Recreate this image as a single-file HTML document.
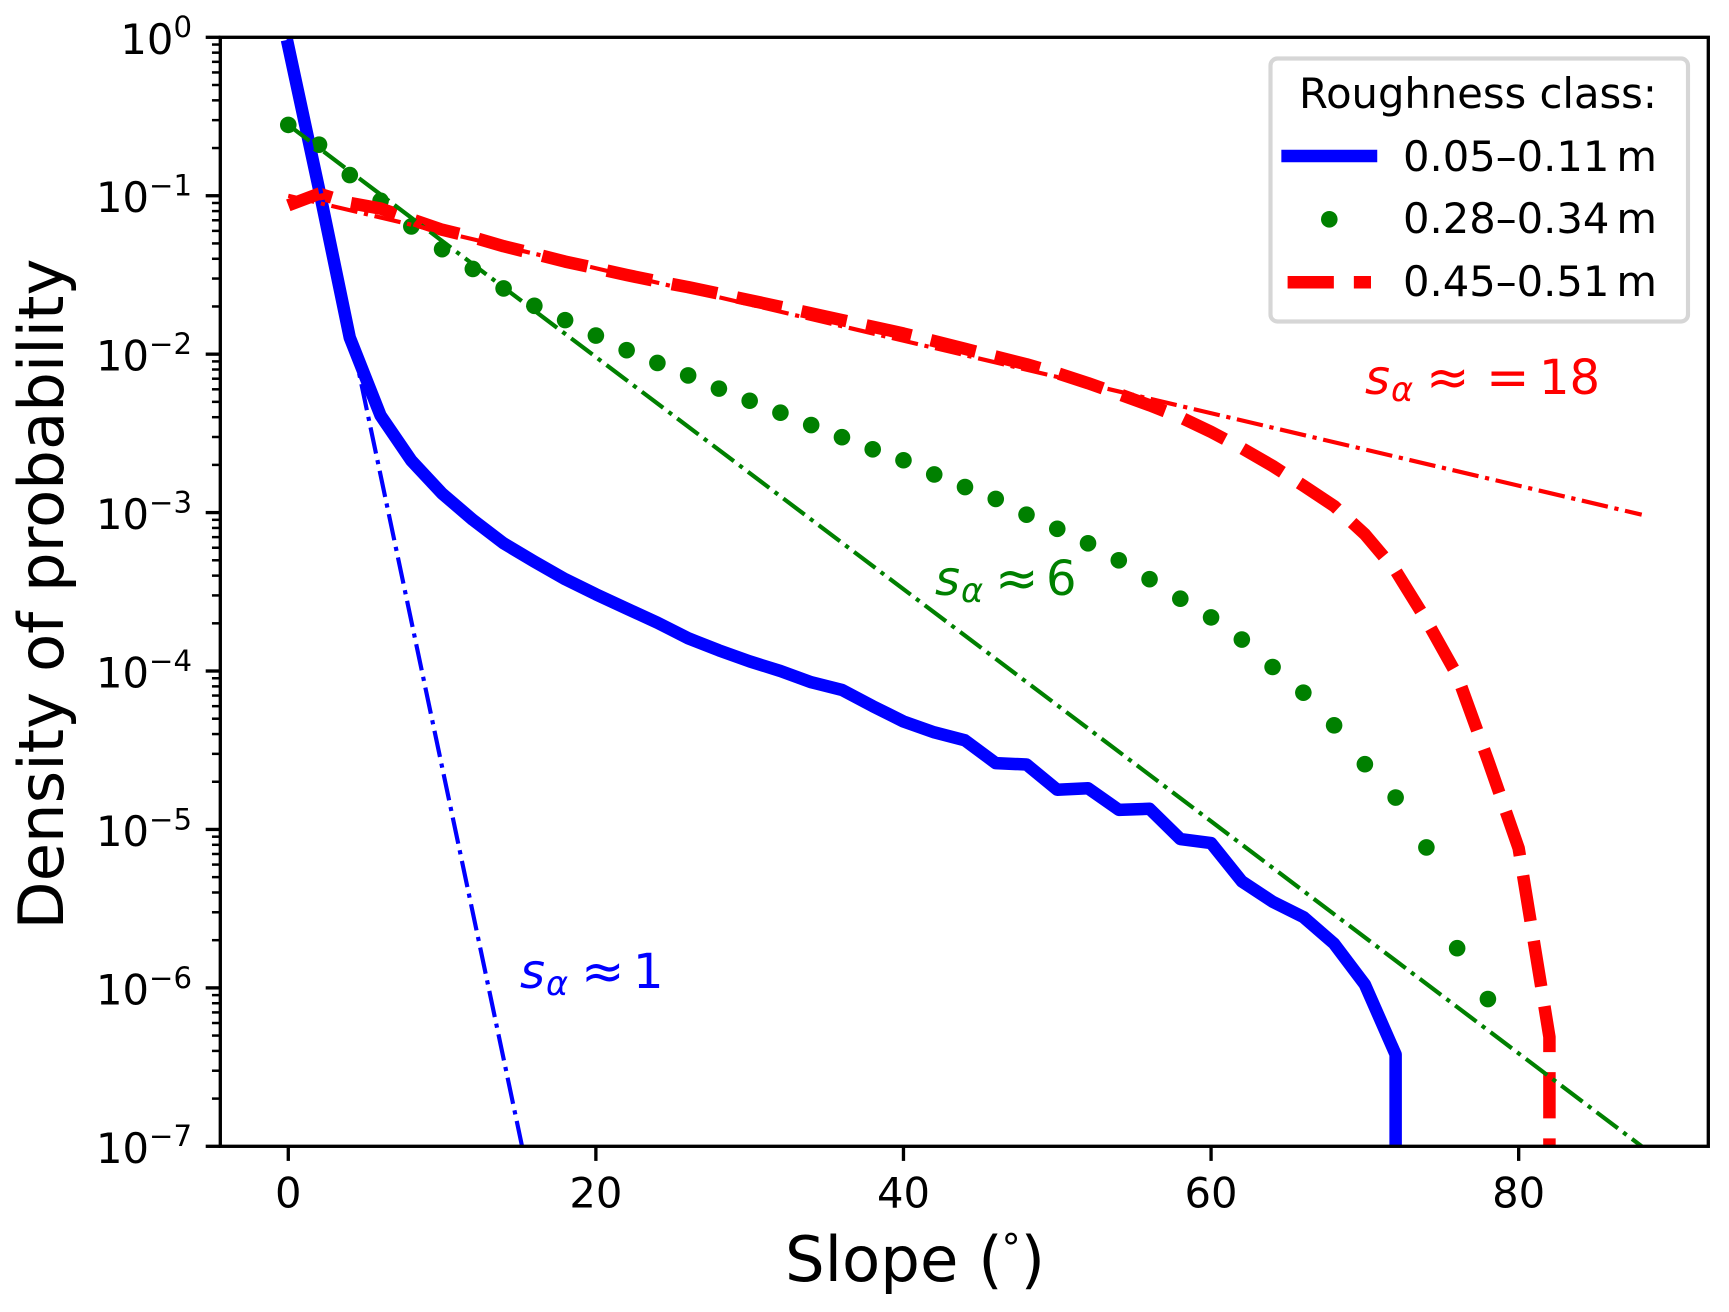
<!DOCTYPE html>
<html lang="en">
<head>
<meta charset="utf-8">
<title>Density of probability vs slope</title>
<style>
html,body{margin:0;padding:0;background:#fff;width:1729px;height:1312px;overflow:hidden}
svg{display:block}
text{font-family:"DejaVu Sans","Liberation Sans",sans-serif}
.math{font-style:italic}
</style>
</head>
<body>
<svg id="chart" xmlns="http://www.w3.org/2000/svg" width="1729" height="1312" viewBox="0 0 1729 1312">
  <rect x="0" y="0" width="1729" height="1312" fill="#fff"/>
  <defs>
    <clipPath id="plot-clip"><rect x="220.3" y="37.3" width="1488" height="1109"/></clipPath>
  </defs>
  <g id="series-layer" clip-path="url(#plot-clip)"></g>
  <g id="axis-layer"></g>

  <text x="0" y="0" transform="translate(63,594) rotate(-90)" text-anchor="middle" font-size="62.5">Density of probability</text>
  <text x="785" y="1281" font-size="62.5">Slope (<tspan dx="-1" dy="-20" font-size="38">°</tspan><tspan dy="20" dx="0">)</tspan></text>

  <g fill="#0000ff">
    <text class="math" x="520" y="988" font-size="48">s</text>
    <text class="math" x="546" y="995" font-size="33.6">α</text>
    <text x="581" y="989.2" font-size="52">≈</text>
    <text x="633" y="988" font-size="48">1</text>
  </g>
  <g fill="#008000">
    <text class="math" x="935" y="595" font-size="48">s</text>
    <text class="math" x="961" y="602" font-size="33.6">α</text>
    <text x="995" y="596.2" font-size="52">≈</text>
    <text x="1046" y="595" font-size="48">6</text>
  </g>
  <g fill="#ff0000">
    <text class="math" x="1365" y="394" font-size="48">s</text>
    <text class="math" x="1391" y="401" font-size="33.6">α</text>
    <text x="1426" y="395.2" font-size="52">≈</text>
    <text x="1486" y="395.2" font-size="52">=</text>
    <text x="1539" y="394" font-size="48">18</text>
  </g>

  <g>
    <rect x="1270.5" y="58.5" width="417.5" height="263" rx="7" ry="7" fill="#fff" stroke="#d6d6d6" stroke-width="4.17"/>
    <text x="1299" y="108" font-size="41.67">Roughness class:</text>
    <line x1="1287.6" y1="156" x2="1371" y2="156" stroke="#0000ff" stroke-width="12.5" stroke-linecap="square"/>
    <text x="1403" y="171" font-size="41.67">0.05–0.11<tspan dx="7">m</tspan></text>
    <circle cx="1329.3" cy="219.3" r="8.3" fill="#008000"/>
    <text x="1403" y="233" font-size="41.67">0.28–0.34<tspan dx="7">m</tspan></text>
    <line x1="1287.6" y1="282.3" x2="1371" y2="282.3" stroke="#ff0000" stroke-width="12.5" stroke-dasharray="46.25 20"/>
    <text x="1403" y="296" font-size="41.67">0.45–0.51<tspan dx="7">m</tspan></text>
  </g>
</svg>
<script>
// Chart data
const blueSlopes = [0,2,4,6,8,10,12,14,16,18,20,22,24,26,28,30,32,34,36,38,40,42,44,46,48,50,52,54,56,58,60,62,64,66,68,70,72,72];
const blueDensity = [0.88,0.11,0.0127,0.0041,0.00213,0.00132,0.0009,0.00064,0.00049,0.00038,0.000305,0.000248,0.000202,0.000161,0.000135,0.000115,0.0001,0.000085,0.000076,0.00006,0.000048,0.000041,0.0000365,0.0000262,0.0000257,0.0000178,0.0000182,0.0000133,0.0000135,0.0000087,0.0000082,0.0000047,0.0000035,0.0000028,0.0000019,0.00000105,0.00000038,0.00000001];

const greenSlopes = [0,2,4,6,8,10,12,14,16,18,20,22,24,26,28,30,32,34,36,38,40,42,44,46,48,50,52,54,56,58,60,62,64,66,68,70,72,74,76,78];
const greenDensity = [0.28,0.21,0.135,0.093,0.064,0.046,0.0345,0.026,0.0202,0.0164,0.0131,0.0106,0.0088,0.00734,0.00606,0.00508,0.00427,0.00357,0.00299,0.00251,0.00214,0.00174,0.00145,0.00122,0.00097,0.00079,0.00064,0.0005,0.00038,0.000286,0.000218,0.000158,0.000106,0.000073,0.0000454,0.0000258,0.0000159,0.0000077,0.00000178,0.00000085];

const redSlopes = [0,2,4,6,8,10,12,14,16,18,20,22,24,26,28,30,32,34,36,38,40,42,44,46,48,50,52,54,56,58,60,62,64,66,68,70,72,74,76,78,80,82,82];
const redDensity = [0.087,0.103,0.09,0.083,0.071,0.061,0.0547,0.048,0.043,0.0384,0.0349,0.0316,0.0288,0.0265,0.0241,0.0219,0.0199,0.0181,0.0164,0.0149,0.0135,0.0121,0.0108,0.00966,0.00863,0.00759,0.00656,0.0056,0.00476,0.004,0.00323,0.00255,0.00197,0.00148,0.0011,0.00073,0.00043,0.000209,0.000094,0.0000274,0.0000076,0.00000049,0.00000001];

const fitBlueSlopes = [0,15.2];
const fitBlueDensity = [1,0.0000001];
const fitGreenSlopes = [0,88];
const fitGreenDensity = [0.28,0.0000001];
const fitRedSlopes = [0,88];
const fitRedDensity = [0.1,0.00097];

const xTickValues = [0,20,40,60,80];
const xTickLabels = ["0","20","40","60","80"];
const yTickValues = [1,0.1,0.01,0.001,0.0001,0.00001,0.000001,0.0000001];
const yTickExponents = ["0","−1","−2","−3","−4","−5","−6","−7"];
const minorMultipliers = [2,3,4,5,6,7,8,9];

// Axis functions
const plotLeft = 220.3, plotRight = 1708.3, plotTop = 37.3, plotBottom = 1146.3;
const xDomain = [-4.42, 92.33];
const yDecades = [0, -7];
function xScale(v){
  return plotLeft + (v - xDomain[0]) / (xDomain[1] - xDomain[0]) * (plotRight - plotLeft);
}
function yScale(v){
  return plotTop + (Math.log10(v) - yDecades[0]) / (yDecades[1] - yDecades[0]) * (plotBottom - plotTop);
}

const NS = 'http://www.w3.org/2000/svg';
const seriesLayer = document.getElementById('series-layer');
const axisLayer = document.getElementById('axis-layer');
function make(tag, attrs, parent){
  const el = document.createElementNS(NS, tag);
  for (const k in attrs) el.setAttribute(k, attrs[k]);
  parent.appendChild(el);
  return el;
}
function pointsOf(xs, ys){
  return xs.map(function(x, i){ return xScale(x).toFixed(2) + ',' + yScale(ys[i]).toFixed(2); }).join(' ');
}

// Thick blue line
const blueLine = make('polyline', {points: pointsOf(blueSlopes, blueDensity), fill:'none', stroke:'#0000ff', 'stroke-width':12.5, 'stroke-linecap':'square', 'stroke-linejoin':'round'}, seriesLayer);



// Green dots
greenSlopes.forEach(function(x, i){
  const dot = make('circle', {cx: xScale(x).toFixed(2), cy: yScale(greenDensity[i]).toFixed(2), r: 8.3, fill:'#008000'}, seriesLayer);
  
  
});

// Thick dashed red line
const redLine = make('polyline', {points: pointsOf(redSlopes, redDensity), fill:'none', stroke:'#ff0000', 'stroke-width':12.5, 'stroke-dasharray':'46.25 20', 'stroke-linejoin':'round'}, seriesLayer);



// Fit lines
const fitDash = '26.7 6.7 4.2 6.7';
const fitBlue = make('polyline', {points: pointsOf(fitBlueSlopes, fitBlueDensity), fill:'none', stroke:'#0000ff', 'stroke-width':4.17, 'stroke-dasharray':fitDash}, seriesLayer);


const fitGreen = make('polyline', {points: pointsOf(fitGreenSlopes, fitGreenDensity), fill:'none', stroke:'#008000', 'stroke-width':4.17, 'stroke-dasharray':fitDash}, seriesLayer);


const fitRed = make('polyline', {points: pointsOf(fitRedSlopes, fitRedDensity), fill:'none', stroke:'#ff0000', 'stroke-width':4.17, 'stroke-dasharray':fitDash}, seriesLayer);



// Spines
const spine = make('rect', {x: plotLeft, y: plotTop, width: plotRight - plotLeft, height: plotBottom - plotTop, fill:'none', stroke:'#000', 'stroke-width':3.33, 'stroke-linejoin':'miter'}, axisLayer);



// X ticks
xTickValues.forEach(function(v, i){
  const px = xScale(v);
  const tick = make('line', {x1: px, x2: px, y1: plotBottom, y2: plotBottom + 14.6, stroke:'#000', 'stroke-width':3.33}, axisLayer);
  
  
  const label = make('text', {x: px, y: 1207.5, 'text-anchor':'middle', 'font-size':41.67}, axisLayer);
  label.textContent = xTickLabels[i];
  
  
});

// Y ticks
yTickValues.forEach(function(v, i){
  const py = yScale(v);
  const tick = make('line', {x1: plotLeft - 14.6, x2: plotLeft, y1: py, y2: py, stroke:'#000', 'stroke-width':3.33}, axisLayer);
  
  
  const label = make('text', {x: 192, y: py + 16.5, 'text-anchor':'end', 'font-size':41.67}, axisLayer);
  
  
  label.appendChild(document.createTextNode('10'));
  const sup = make('tspan', {dy: -16.6, 'font-size':29.17}, label);
  sup.textContent = yTickExponents[i];
  if (i < yTickValues.length - 1) {
    minorMultipliers.forEach(function(m){
      const my = yScale(yTickValues[i + 1] * m);
      const minor = make('line', {x1: plotLeft - 8.33, x2: plotLeft, y1: my, y2: my, stroke:'#000', 'stroke-width':2.5}, axisLayer);
      
      
    });
  }
});
</script>
</body>
</html>
